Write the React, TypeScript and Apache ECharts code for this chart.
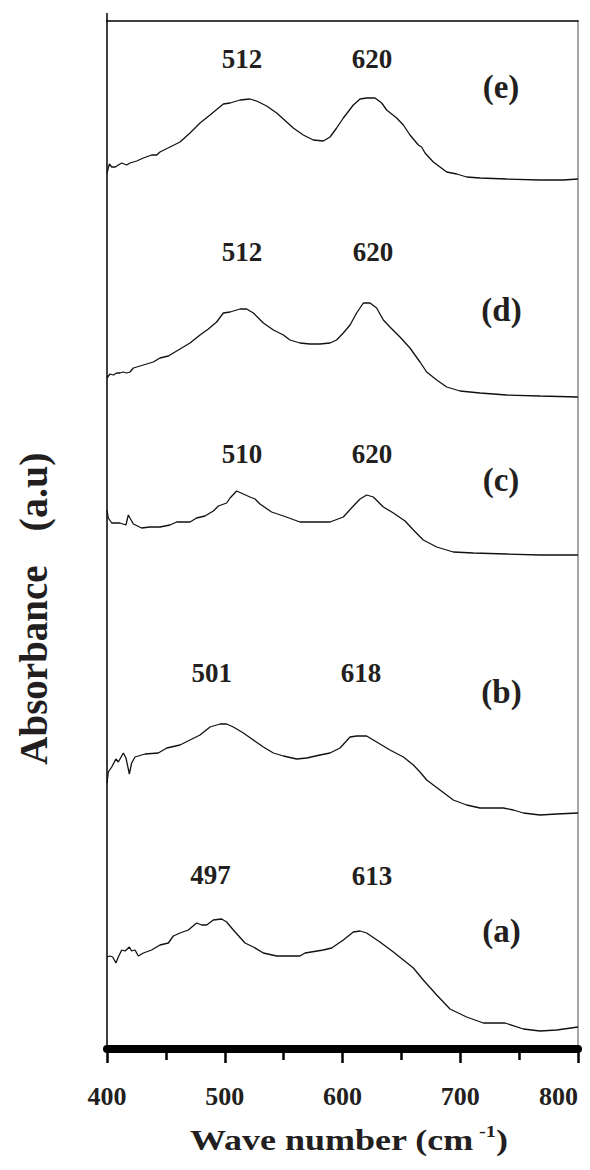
import React, { useEffect, useRef } from 'react';
import * as echarts from 'echarts';

const xTicks = [400, 500, 600, 700, 800];

const curveA: [number, number][] = [
  [400, 92], [402.5, 93], [404.8, 92], [407.6, 86], [409.6, 92], [412.5, 99], [415.3, 98], [419, 102],
  [420.9, 98], [423.8, 99], [426.6, 93], [430.9, 96], [437.9, 99], [445, 104], [452.1, 106], [456.3, 113],
  [462, 116], [469.1, 119], [476.1, 126], [480.4, 124], [484.6, 124], [490.3, 129], [497.4, 130], [501.6, 127],
  [507.3, 119], [517.2, 106], [524.3, 102], [532.8, 96], [544.1, 93], [563.9, 93], [568.2, 96], [583.7, 99],
  [590.8, 101], [600.7, 109], [609.2, 117], [614.9, 118], [620.5, 116], [631.8, 107], [643.2, 97], [660.2, 81],
  [668.6, 69], [680, 54], [691.3, 40], [705.4, 32], [719.6, 26], [738, 26], [753.6, 20], [767.7, 18],
  [781.9, 19], [800, 22],
];

const curveB: [number, number][] = [
  [400, 266], [401.1, 277], [404, 282], [407.6, 290], [409.6, 287], [413.9, 296], [416.1, 291], [419, 275],
  [420.9, 286], [423.8, 292], [432.3, 295], [443.6, 296], [450.7, 301], [462, 304], [470.5, 309], [479, 314],
  [487.5, 322], [496, 325], [501.6, 325], [507.3, 322], [515.8, 316], [524.3, 309], [532.8, 302], [541.3, 296],
  [549.8, 293], [561.1, 290], [569.6, 291], [580.9, 294], [589.4, 296], [597.9, 301], [606.4, 312], [612, 313],
  [620.5, 313], [629, 307], [640.3, 299], [651.7, 292], [660.2, 284], [665.8, 277], [671.5, 269], [682.8, 259],
  [694.1, 249], [705.4, 244], [716.8, 241], [736.6, 241], [745.1, 239], [753.6, 236], [767.7, 234], [781.9, 235],
  [800, 236],
];

const curveC: [number, number][] = [
  [400, 539], [401.1, 531], [404, 526], [411, 526], [416.1, 524], [418.1, 534], [419.5, 531], [422.4, 525],
  [429.4, 521], [436.5, 522], [445, 522], [453.5, 524], [459.2, 527], [470.5, 527], [476.1, 531], [483.2, 533],
  [490.3, 538], [494.6, 543], [501.6, 546], [504.5, 551], [510.1, 558], [515.8, 555], [521.4, 552], [525.7, 550],
  [529.9, 545], [539.8, 537], [549.8, 533], [563.9, 527], [578.1, 527], [589.4, 527], [600.7, 532], [609.2, 543],
  [614.9, 550], [620.5, 554], [626.2, 552], [634.7, 542], [643.2, 536], [653.1, 528], [660.2, 519], [668.6, 509],
  [680, 502], [694.1, 497], [711.1, 496], [739.4, 495], [767.7, 494], [800, 494],
];

const curveD: [number, number][] = [
  [400, 671], [402.5, 675], [405.4, 674], [408.2, 676], [411, 676], [413.9, 677], [416.7, 676], [419.5, 677],
  [422.4, 681], [430.9, 684], [439.3, 687], [445, 691], [452.1, 693], [462, 700], [470.5, 706], [479, 714],
  [486.1, 720], [493.1, 727], [498.8, 736], [504.5, 737], [513, 740], [518.6, 740], [524.3, 736], [532.8, 726],
  [541.3, 719], [549.8, 714], [555.4, 709], [563.9, 706], [572.4, 705], [580.9, 705], [589.4, 706], [595, 709],
  [600.7, 716], [606.4, 724], [612, 736], [617.7, 746], [623.4, 746], [629, 741], [634.7, 729], [640.3, 722],
  [648.8, 712], [657.3, 701], [665.8, 687], [671.5, 677], [680, 669], [688.5, 662], [699.8, 658], [716.8, 656],
  [739.4, 654], [767.7, 653], [800, 652],
];

const curveE: [number, number][] = [
  [400, 876], [402, 885], [404, 882], [407, 882], [412.5, 886], [416.7, 884], [419.5, 886], [425.2, 888],
  [430.9, 891], [437.9, 894], [442.2, 894], [445, 897], [453.5, 902], [462, 907], [470.5, 916], [479, 926],
  [487.5, 934], [498.8, 945], [504.5, 946], [513, 949], [521.4, 950], [527.1, 948], [535.6, 943], [544.1, 936],
  [552.6, 927], [558.2, 921], [566.7, 914], [575.2, 909], [583.7, 908], [589.4, 912], [595, 921], [600.7, 931],
  [609.2, 944], [614.9, 950], [620.5, 951], [627.6, 951], [633.3, 946], [637.5, 939], [646, 931], [651.7, 924],
  [657.3, 914], [664.4, 904], [667.2, 902], [670.1, 896], [677.1, 887], [688.5, 877], [697, 875], [705.4, 872],
  [716.8, 871], [739.4, 870], [767.7, 869], [787.5, 869], [800, 870],
];

const peakLabels: [string, number, number][] = [
  ['512', 514.6, 990], ['620', 625, 990],
  ['512', 514.6, 797], ['620', 626, 797],
  ['510', 514.6, 595], ['620', 625, 595],
  ['501', 489, 376], ['618', 615.7, 376],
  ['497', 488, 174], ['613', 625, 173],
];

const sampleLabels: [string, number, number][] = [
  ['(e)', 734.6, 962], ['(d)', 735, 739], ['(c)', 734.6, 569], ['(b)', 735, 357], ['(a)', 735, 118],
];

const FONT = 'Liberation Serif, Times New Roman, Times, serif';
const INK = '#231f20';

if (typeof document !== 'undefined') {
  document.documentElement.style.margin = '0';
  document.documentElement.style.overflow = 'hidden';
  document.body.style.margin = '0';
  document.body.style.overflow = 'hidden';
}

export default function App() {
  const ref = useRef<HTMLDivElement>(null);

  useEffect(() => {
    const chart = echarts.init(ref.current!, undefined, { renderer: 'svg', width: 590, height: 1170 });
    const curves = [curveA, curveB, curveC, curveD, curveE];
    chart.setOption({
      animation: false,
      grid: { left: 107, right: 12, top: 21, bottom: 121, containLabel: false, outerBoundsMode: 'none' },
      xAxis: [
        {
          type: 'value', min: xTicks[0], max: xTicks[xTicks.length - 1], interval: 100, position: 'bottom',
          axisLine: { onZero: false, lineStyle: { color: '#000', width: 8 } },
          axisTick: { length: 14, lineStyle: { width: 2.5, color: '#000' } },
          minorTick: { show: true, splitNumber: 2, length: 11, lineStyle: { width: 2.5, color: '#000' } },
          axisLabel: {
            margin: 34, fontFamily: FONT, fontWeight: 'bold', fontSize: 26, color: INK,
            alignMaxLabel: 'right',
          },
          splitLine: { show: false }, minorSplitLine: { show: false },
        },
        {
          type: 'value', min: xTicks[0], max: xTicks[xTicks.length - 1], position: 'top',
          axisLine: { onZero: false, lineStyle: { color: '#000', width: 1.5 } },
          axisTick: { show: false }, axisLabel: { show: false }, splitLine: { show: false },
        },
      ],
      yAxis: [
        {
          type: 'value', min: 0, max: 1028,
          axisLine: { show: true, onZero: false, lineStyle: { color: '#000', width: 1.5 } },
          axisTick: { show: false }, axisLabel: { show: false }, splitLine: { show: false },
        },
        {
          type: 'value', min: 0, max: 1028, position: 'right',
          axisLine: { show: true, onZero: false, lineStyle: { color: '#888', width: 1.5 } },
          axisTick: { show: false }, axisLabel: { show: false }, splitLine: { show: false },
        },
      ],
      series: curves.map((c) => ({
        type: 'line', data: c, xAxisIndex: 0, yAxisIndex: 0, showSymbol: false, symbol: 'none',
        lineStyle: { color: '#111', width: 1.3 }, silent: true,
      })),
    });

    const px = (x: number, y: number) =>
      chart.convertToPixel({ xAxisIndex: 0, yAxisIndex: 0 }, [x, y]) as number[];
    const topLeft = px(400, 1028);
    const graphics: any[] = [
      {
        type: 'line', shape: { x1: topLeft[0], y1: topLeft[1] - 8, x2: topLeft[0], y2: topLeft[1] },
        style: { stroke: '#000', lineWidth: 1.5 },
      },
    ];
    const txt = (t: string, x: number, y: number, size: number, extra: any = {}) => ({
      type: 'text', x, y, ...extra,
      style: {
        text: t, fontSize: size, fontWeight: 'bold', fontFamily: FONT, fill: INK,
        align: 'center', verticalAlign: 'middle', textAlign: 'center', textVerticalAlign: 'middle',
      },
    });
    peakLabels.forEach(([t, x, y]) => {
      const p = px(x, y);
      graphics.push(txt(t, p[0], p[1], 27));
    });
    sampleLabels.forEach(([t, x, y]) => {
      const p = px(x, y);
      graphics.push(txt(t, p[0], p[1], 33));
    });
    graphics.push(txt('Absorbance', 33, 665, 39, { rotation: Math.PI / 2 }));
    graphics.push(txt('(a.u)', 33, 492, 40, { rotation: Math.PI / 2 }));
    graphics.push({
      type: 'text', x: 190, y: 1140, scaleX: 1.2,
      style: {
        text: '{m|Wave number (cm}{s| -1}{m|)}',
        align: 'left', verticalAlign: 'middle', textAlign: 'left', textVerticalAlign: 'middle',
        rich: {
          m: { fontSize: 30, fontWeight: 'bold', fontFamily: FONT, fill: INK, lineHeight: 34 },
          s: { fontSize: 17, fontWeight: 'bold', fontFamily: FONT, fill: INK, lineHeight: 17, verticalAlign: 'top' },
        },
      },
    });
    chart.setOption({ graphic: graphics });

    return () => chart.dispose();
  }, []);

  return <div ref={ref} style={{ width: 590, height: 1170 }} />;
}
